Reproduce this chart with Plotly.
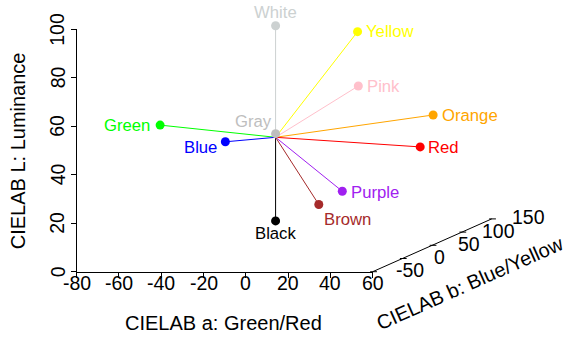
import plotly.graph_objects as go

# CIELAB coordinates of the named colours (a: green/red, b: blue/yellow, L: luminance)
names = ["White", "Gray", "Black", "Yellow", "Pink", "Orange", "Red",
         "Green", "Blue", "Purple", "Brown"]
a_vals = [0, 0, 0, 5, 33.5, 52, 51.5, -71.5, -12.5, 40, 12]
b_vals = [0, 0, 0, 120, 20, 80, 60, 60, -40, -30, 30]
L_vals = [96, 51.5, 15.5, 80.5, 69, 50.5, 39.5, 48.5, 52.5, 31, 19]
colors = ["#CCD1D1", "#BEBEBE", "#000000", "#FFFF00", "#FFC0CB", "#FFA500",
          "#FF0000", "#00FF00", "#0000FF", "#A020F0", "#A52A2A"]

# neutral reference point the spokes start from
center_a, center_b, center_L = 0, 0, 50

a_ticks = [-80, -60, -40, -20, 0, 20, 40, 60]
L_ticks = [0, 20, 40, 60, 80, 100]
b_ticks = [-50, 0, 50, 100, 150]

A_RANGE = (-80, 60)
L_RANGE = (0, 100)
B_RANGE = (-50, 150)

# canvas and oblique projection setup
W, H = 566, 339
X0, X1 = 76.7, 372.7        # pixel span of the a axis
Y0, Y1 = 271.7, 29.3        # pixel span of the L axis (bottom, top)
PX_A = (X1 - X0) / (A_RANGE[1] - A_RANGE[0])
PX_L = (Y0 - Y1) / (L_RANGE[1] - L_RANGE[0])
DEPTH_DX = 0.595 / PX_A     # a-units shifted per unit of b
DEPTH_DY = 0.264 / PX_L     # L-units shifted per unit of b


def project(a, b, L):
    d = b - B_RANGE[0]
    return a + d * DEPTH_DX, L + d * DEPTH_DY


FONT = "Arial, Liberation Sans, sans-serif"
TICK_FONT = dict(family=FONT, size=19.5, color="black")
fig = go.Figure()

# empty trace so the front a/L axes get drawn
fig.add_trace(go.Scatter(x=[], y=[], xaxis="x", yaxis="y", showlegend=False))

# spokes from the neutral point to every colour
cx, cy = project(center_a, center_b, center_L)
for n, a, b, L, c in zip(names, a_vals, b_vals, L_vals, colors):
    px, py = project(a, b, L)
    fig.add_trace(go.Scatter(x=[cx, px], y=[cy, py], mode="lines",
                             line=dict(color=c, width=1), xaxis="x2", yaxis="y2",
                             hoverinfo="skip", showlegend=False))

# colour points
pts = [project(a, b, L) for a, b, L in zip(a_vals, b_vals, L_vals)]
fig.add_trace(go.Scatter(x=[p[0] for p in pts], y=[p[1] for p in pts], mode="markers",
                         marker=dict(color=colors, size=9, line=dict(width=0)),
                         text=names, xaxis="x2", yaxis="y2", showlegend=False))

# b axis along the receding bottom-right edge
b0 = project(A_RANGE[1], B_RANGE[0], L_RANGE[0])
b1 = project(A_RANGE[1], B_RANGE[1], L_RANGE[0])
fig.add_trace(go.Scatter(x=[b0[0], b1[0]], y=[b0[1], b1[1]], mode="lines",
                         line=dict(color="black", width=1), xaxis="x2", yaxis="y2",
                         hoverinfo="skip", showlegend=False))
tx, ty = [], []
for t in b_ticks:
    p = project(A_RANGE[1], t, L_RANGE[0])
    tx += [p[0] - 1.2, p[0] + 2.0, None]
    ty += [p[1], p[1], None]
fig.add_trace(go.Scatter(x=tx, y=ty, mode="lines", line=dict(color="black", width=1),
                         xaxis="x2", yaxis="y2", hoverinfo="skip", showlegend=False))

annotations = []
for t in b_ticks:
    p = project(A_RANGE[1], t, L_RANGE[0])
    annotations.append(dict(x=p[0], y=p[1], xref="x2", yref="y2", text=str(t),
                            showarrow=False, xanchor="center", yanchor="middle",
                            xshift=37, yshift=1.5, font=TICK_FONT))

# tick labels of the front a and L axes
for t in a_ticks:
    annotations.append(dict(x=t, y=L_RANGE[0], xref="x", yref="y", text=str(t),
                            showarrow=False, xanchor="center", yanchor="middle",
                            yshift=-11.6, font=TICK_FONT))
for t in L_ticks:
    annotations.append(dict(x=A_RANGE[0], y=t, xref="x", yref="y", text=str(t),
                            showarrow=False, textangle=-90,
                            xanchor="center", yanchor="middle",
                            xshift=-19.2, font=TICK_FONT))

# label placement per colour: (xanchor, yanchor, xshift, yshift)
placement = {
    "White": ("center", "bottom", 0, 2),
    "Gray": ("right", "bottom", -2, 1),
    "Black": ("center", "top", 0, -1),
    "Yellow": ("left", "middle", 6, 0),
    "Pink": ("left", "middle", 7, -1),
    "Orange": ("left", "middle", 7, -1),
    "Red": ("left", "middle", 6, -1),
    "Green": ("right", "middle", -8, 0),
    "Blue": ("right", "middle", -6, -6),
    "Purple": ("left", "middle", 7, -1.5),
    "Brown": ("left", "top", 3, -3),
}
for n, (px, py), c in zip(names, pts, colors):
    xa, ya, xs, ys = placement[n]
    annotations.append(dict(x=px, y=py, xref="x2", yref="y2", text=n, showarrow=False,
                            xanchor=xa, yanchor=ya, xshift=xs, yshift=ys,
                            font=dict(family=FONT, size=16.7, color=c)))

# axis titles
annotations += [
    dict(x=223.3 / W, y=1 - 323.3 / H, xref="paper", yref="paper",
         text="CIELAB a: Green/Red", showarrow=False, xanchor="center", yanchor="middle",
         font=dict(family=FONT, size=20, color="black")),
    dict(x=17.5 / W, y=1 - 150.8 / H, xref="paper", yref="paper",
         text="CIELAB L: Luminance", showarrow=False, textangle=-90,
         xanchor="center", yanchor="middle",
         font=dict(family=FONT, size=20, color="black")),
    dict(x=470 / W, y=1 - 283.3 / H, xref="paper", yref="paper",
         text="CIELAB b: Blue/Yellow", showarrow=False, textangle=-24,
         xanchor="center", yanchor="middle",
         font=dict(family=FONT, size=20, color="black")),
]

x2_range = [A_RANGE[0] - X0 / PX_A, A_RANGE[0] + (W - X0) / PX_A]
y2_range = [L_RANGE[0] - (H - Y0) / PX_L, L_RANGE[0] + Y0 / PX_L]

fig.update_layout(
    template="none",
    width=W, height=H, autosize=False,
    margin=dict(l=0, r=0, t=0, b=0, pad=0),
    paper_bgcolor="white", plot_bgcolor="rgba(0,0,0,0)",
    font=dict(family=FONT, size=19.5, color="black"),
    xaxis=dict(domain=[X0 / W, X1 / W], range=list(A_RANGE), anchor="y",
               automargin=False, tickvals=a_ticks, showticklabels=False,
               ticks="outside", ticklen=5, tickwidth=1, tickcolor="black",
               showline=True, linecolor="black", linewidth=1,
               showgrid=False, zeroline=False, fixedrange=True),
    yaxis=dict(domain=[1 - Y0 / H, 1 - Y1 / H], range=list(L_RANGE), anchor="x",
               automargin=False, tickvals=L_ticks, showticklabels=False,
               ticks="outside", ticklen=5, tickwidth=1, tickcolor="black",
               showline=True, linecolor="black", linewidth=1,
               showgrid=False, zeroline=False, fixedrange=True),
    xaxis2=dict(domain=[0, 1], range=x2_range, anchor="y2", automargin=False,
                visible=False, fixedrange=True),
    yaxis2=dict(domain=[0, 1], range=y2_range, anchor="x2", automargin=False,
                visible=False, fixedrange=True),
    annotations=annotations,
)

fig.write_html("out.html")
